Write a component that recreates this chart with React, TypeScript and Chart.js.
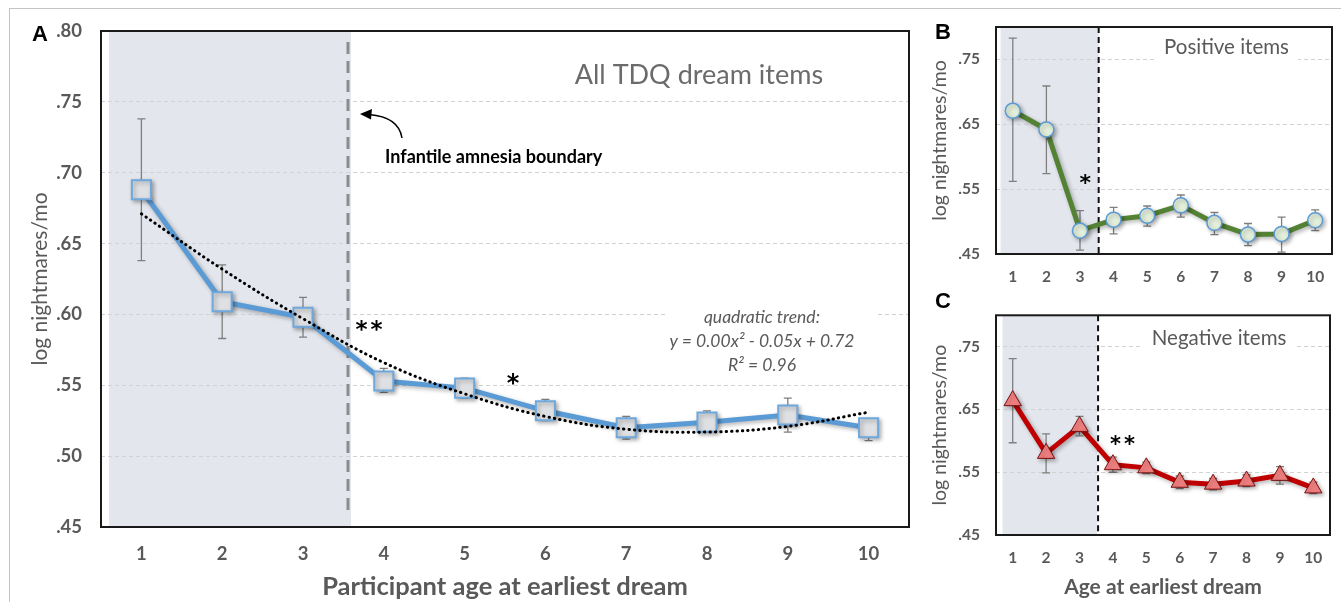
import React, { useEffect, useRef } from "react";
import { Chart, registerables } from "chart.js";

Chart.register(...registerables);

// ---------- data ----------
const ages = [1, 2, 3, 4, 5, 6, 7, 8, 9, 10];
const xTickLabels = ["1", "2", "3", "4", "5", "6", "7", "8", "9", "10"];

const allItems = [0.688, 0.609, 0.598, 0.553, 0.548, 0.532, 0.52, 0.524, 0.529, 0.52];
const allHigh = [0.738, 0.635, 0.612, 0.562, 0.555, 0.54, 0.528, 0.532, 0.541, 0.526];
const allLow = [0.638, 0.583, 0.584, 0.545, 0.541, 0.525, 0.512, 0.517, 0.517, 0.511];
const allTrend = [0.671, 0.632, 0.597, 0.566, 0.544, 0.528, 0.519, 0.517, 0.521, 0.531];

const positiveItems = [0.671, 0.642, 0.486, 0.503, 0.509, 0.525, 0.498, 0.48, 0.481, 0.502];
const positiveHigh = [0.783, 0.709, 0.517, 0.522, 0.524, 0.541, 0.514, 0.497, 0.507, 0.518];
const positiveLow = [0.562, 0.574, 0.456, 0.481, 0.493, 0.507, 0.48, 0.463, 0.453, 0.486];

const negativeItems = [0.664, 0.58, 0.623, 0.562, 0.557, 0.534, 0.531, 0.536, 0.545, 0.525];
const negativeHigh = [0.731, 0.611, 0.639, 0.574, 0.566, 0.544, 0.54, 0.546, 0.559, 0.534];
const negativeLow = [0.597, 0.549, 0.608, 0.55, 0.548, 0.524, 0.522, 0.527, 0.531, 0.516];

const yTicksA = [0.45, 0.5, 0.55, 0.6, 0.65, 0.7, 0.75, 0.8];
const yTickLabelsA = [".45", ".50", ".55", ".60", ".65", ".70", ".75", ".80"];
const yTicksBC = [0.45, 0.55, 0.65, 0.75];
const yTickLabelsBC = [".45", ".55", ".65", ".75"];

// ---------- styling ----------
const FONT = "Lato, 'Open Sans', sans-serif";
const GRAY = "#595959";

function drawStars(ctx: CanvasRenderingContext2D, n: number, cx: number, cy: number, size: number, gap: number) {
  ctx.save();
  ctx.fillStyle = "#000";
  ctx.font = `bold ${size}px "DejaVu Sans"`;
  ctx.textAlign = "center";
  ctx.textBaseline = "alphabetic";
  for (let i = 0; i < n; i++) {
    const sx = cx + (i - (n - 1) / 2) * gap;
    ctx.fillText("*", sx, cy + size * 0.55);
  }
  ctx.restore();
}

function boxedText(ctx: CanvasRenderingContext2D, text: string, cx: number, cy: number, font: string, color: string) {
  ctx.save();
  ctx.font = font;
  const w = ctx.measureText(text).width;
  ctx.fillStyle = "#fff";
  ctx.fillRect(cx - w / 2 - 9, cy - 13, w + 18, 26);
  ctx.fillStyle = color;
  ctx.textAlign = "center";
  ctx.textBaseline = "middle";
  ctx.fillText(text, cx, cy);
  ctx.restore();
}

function panelLabel(ctx: CanvasRenderingContext2D, t: string, x: number, y: number) {
  ctx.save();
  ctx.fillStyle = "#000";
  ctx.font = 'bold 22px "Liberation Sans", Arial, sans-serif';
  ctx.textAlign = "center";
  ctx.textBaseline = "middle";
  ctx.fillText(t, x, y);
  ctx.restore();
}

function annotateA(ctx: CanvasRenderingContext2D, chart: any) {
  const { x, y } = chart.scales;
  const X = (v: number) => x.getPixelForValue(v);
  const Y = (v: number) => y.getPixelForValue(v);
  panelLabel(ctx, "A", 40, 35);
  ctx.save();
  ctx.fillStyle = "#6B6B6B";
  ctx.font = `27px ${FONT}`;
  ctx.textAlign = "center";
  ctx.textBaseline = "middle";
  ctx.fillText("All TDQ dream items", X(7.9), Y(0.769));

  ctx.fillStyle = "#000";
  ctx.font = `bold 18px ${FONT}`;
  ctx.textAlign = "left";
  ctx.fillText("Infantile amnesia boundary", X(4.015), Y(0.7111));

  // arrow
  const sx = X(4.225), sy = Y(0.7245);
  const tx = X(3.705), ty = Y(0.7415);
  ctx.strokeStyle = "#000";
  ctx.lineWidth = 1.5;
  ctx.beginPath();
  ctx.moveTo(sx, sy);
  ctx.quadraticCurveTo(sx - 3, ty + 3, tx + 9, ty + 0.5);
  ctx.stroke();
  ctx.beginPath();
  ctx.moveTo(tx, ty);
  ctx.lineTo(tx + 12, ty - 5);
  ctx.lineTo(tx + 11, ty + 5.5);
  ctx.closePath();
  ctx.fill();

  // quadratic trend box
  ctx.fillStyle = "#fff";
  ctx.fillRect(X(7.48), Y(0.6075), X(10.08) - X(7.48), Y(0.5553) - Y(0.6075));
  ctx.fillStyle = GRAY;
  ctx.font = `italic 17.5px ${FONT}`;
  ctx.textAlign = "center";
  ctx.fillText("quadratic trend:", X(8.68), Y(0.5976));
  ctx.fillText("y = 0.00x\u00B2 - 0.05x + 0.72", X(8.68), Y(0.5807));
  ctx.fillText("R\u00B2 = 0.96", X(8.68), Y(0.5638));
  ctx.restore();

  drawStars(ctx, 2, X(3.817), Y(0.5927), 23, 15);
  drawStars(ctx, 1, X(5.599), Y(0.5553), 24, 0);
}

function annotateB(ctx: CanvasRenderingContext2D, chart: any) {
  const { x, y } = chart.scales;
  panelLabel(ctx, "B", 18, 33);
  drawStars(ctx, 1, x.getPixelForValue(3.16), y.getPixelForValue(0.5678), 22, 0);
  boxedText(ctx, "Positive items", x.getPixelForValue(7.36), y.getPixelForValue(0.7683), `20.5px ${FONT}`, GRAY);
}

function annotateC(ctx: CanvasRenderingContext2D, chart: any) {
  const { x, y } = chart.scales;
  panelLabel(ctx, "C", 18, 12);
  drawStars(ctx, 2, x.getPixelForValue(4.29), y.getPixelForValue(0.602), 21, 14);
  boxedText(ctx, "Negative items", x.getPixelForValue(7.18), y.getPixelForValue(0.7636), `20.5px ${FONT}`, GRAY);
}

const panelA = {
  key: "A",
  values: allItems, high: allHigh, low: allLow, trend: allTrend,
  lineColor: "#5B9BD5", pointStyle: "rect", pointRadius: 13.5, pointBg: "#DFE0E3", pointBorder: "#6FA8DC", pointBorderWidth: 2,
  yTicks: yTicksA, yTickLabels: yTickLabelsA,
  padding: { left: 0, top: 31, right: 16, bottom: 0 }, yAxisWidth: 101, xAxisHeight: 75,
  tickFont: 18.5, yTickPad: 19, xTickPad: 16,
  yTitleFont: 21, yTitlePad: 27.4, xTitle: "Participant age at earliest dream", xTitleFont: 25.5, xTitlePad: 0,
  shadeFrom: 0.6, shadeTo: 3.594, boundary: 3.557, boundaryColor: "#8C8C8C", boundaryWidth: 3, boundaryDash: [12, 7], boundaryInset: [11, 12],
  annotate: annotateA,
};

const panelB = {
  key: "B",
  values: positiveItems, high: positiveHigh, low: positiveLow, trend: null,
  lineColor: "#548235", pointStyle: "circle", pointRadius: 7.5, pointBg: "#E2EFDA", pointBorder: "#5B9BD5", pointBorderWidth: 1.5,
  yTicks: yTicksBC, yTickLabels: yTickLabelsBC,
  padding: { left: 0, top: 27, right: 5, bottom: 0 }, yAxisWidth: 71, xAxisHeight: 36,
  tickFont: 15.5, yTickPad: 16, xTickPad: 13.7,
  yTitleFont: 19.5, yTitlePad: 3.3, xTitle: null, xTitleFont: 20, xTitlePad: 0,
  shadeFrom: 0.636, shadeTo: 3.556, boundary: 3.556, boundaryColor: "#111", boundaryWidth: 2, boundaryDash: [6, 4], boundaryInset: [0, 0],
  annotate: annotateB,
};

const panelC = {
  key: "C",
  values: negativeItems, high: negativeHigh, low: negativeLow, trend: null,
  lineColor: "#C00000", pointStyle: "triangle", pointRadius: 10, pointBg: "#F07F7F", pointBorder: "#7A1010", pointBorderWidth: 1,
  yTicks: yTicksBC, yTickLabels: yTickLabelsBC,
  padding: { left: 0, top: 21, right: 5, bottom: 0 }, yAxisWidth: 71, xAxisHeight: 67,
  tickFont: 15.5, yTickPad: 16, xTickPad: 13.4,
  yTitleFont: 19.5, yTitlePad: 3.3, xTitle: "Age at earliest dream", xTitleFont: 21, xTitlePad: 2.4,
  shadeFrom: 0.695, shadeTo: 3.527, boundary: 3.556, boundaryColor: "#111", boundaryWidth: 2, boundaryDash: [6, 4], boundaryInset: [0, 0],
  annotate: annotateC,
};

function buildConfig(p: any): any {
  const datasets: any[] = [];
  if (p.trend) {
    datasets.push({
      data: ages.map((a, i) => ({ x: a, y: p.trend[i] })),
      borderColor: "#000",
      borderWidth: 3,
      borderDash: [0.4, 5],
      borderCapStyle: "round",
      pointRadius: 0,
      tension: 0.4,
      fill: false,
      order: 0,
    });
  }
  datasets.push({
    data: ages.map((a, i) => ({ x: a, y: p.values[i] })),
    borderColor: p.lineColor,
    borderWidth: 5,
    pointStyle: p.pointStyle,
    pointRadius: p.pointRadius,
    pointBackgroundColor: p.pointBg,
    pointBorderColor: p.pointBorder,
    pointBorderWidth: p.pointBorderWidth,
    tension: 0,
    fill: false,
    order: 1,
    shadow: true,
  });

  const plugin = {
    id: "decor" + p.key,
    beforeDraw(chart: any) {
      const { ctx, chartArea: a, scales } = chart;
      const x0 = scales.x.getPixelForValue(p.shadeFrom);
      const x1 = scales.x.getPixelForValue(p.shadeTo);
      ctx.save();
      ctx.fillStyle = "#E3E6EC";
      ctx.fillRect(x0, a.top, x1 - x0, a.bottom - a.top);
      ctx.restore();
    },
    beforeDatasetsDraw(chart: any) {
      const { ctx, chartArea: a, scales } = chart;
      const { x, y } = scales;
      ctx.save();
      const bx = x.getPixelForValue(p.boundary);
      ctx.strokeStyle = p.boundaryColor;
      ctx.lineWidth = p.boundaryWidth;
      ctx.setLineDash(p.boundaryDash);
      ctx.beginPath();
      ctx.moveTo(bx, a.top + p.boundaryInset[0]);
      ctx.lineTo(bx, a.bottom - p.boundaryInset[1]);
      ctx.stroke();
      ctx.setLineDash([]);
      ctx.strokeStyle = "#7F7F7F";
      ctx.lineWidth = 1.3;
      ages.forEach((age, i) => {
        const px = x.getPixelForValue(age);
        const hi = y.getPixelForValue(p.high[i]);
        const lo = y.getPixelForValue(p.low[i]);
        ctx.beginPath();
        ctx.moveTo(px, hi);
        ctx.lineTo(px, lo);
        ctx.moveTo(px - 4, hi);
        ctx.lineTo(px + 4, hi);
        ctx.moveTo(px - 4, lo);
        ctx.lineTo(px + 4, lo);
        ctx.stroke();
      });
      ctx.restore();
    },
    beforeDatasetDraw(chart: any, args: any) {
      if (chart.data.datasets[args.index].shadow) {
        const c = chart.ctx;
        c.save();
        c.shadowColor = "rgba(0,0,0,0.3)";
        c.shadowBlur = 4;
        c.shadowOffsetX = 2;
        c.shadowOffsetY = 2;
      }
    },
    afterDatasetDraw(chart: any, args: any) {
      if (chart.data.datasets[args.index].shadow) chart.ctx.restore();
    },
    afterDraw(chart: any) {
      const { ctx, chartArea: a } = chart;
      p.annotate(ctx, chart);
      ctx.save();
      ctx.strokeStyle = "#1A1A1A";
      ctx.lineWidth = 2;
      ctx.strokeRect(a.left, a.top, a.right - a.left, a.bottom - a.top);
      ctx.restore();
    },
  };

  return {
    type: "line",
    data: { datasets },
    options: {
      responsive: true,
      maintainAspectRatio: false,
      animation: false,
      events: [],
      layout: { padding: p.padding },
      plugins: { legend: { display: false }, tooltip: { enabled: false }, title: { display: false } },
      scales: {
        x: {
          type: "linear",
          min: 0.5,
          max: 10.5,
          afterBuildTicks: (s: any) => {
            s.ticks = ages.map((v) => ({ value: v }));
          },
          afterFit: (s: any) => {
            s.height = p.xAxisHeight;
          },
          grid: { display: false, drawTicks: false },
          border: { display: false },
          ticks: {
            callback: (_v: any, i: number) => xTickLabels[i],
            font: { family: FONT, size: p.tickFont, weight: "bold" },
            color: GRAY,
            padding: p.xTickPad,
            maxRotation: 0,
            minRotation: 0,
            autoSkip: false,
          },
          title: p.xTitle
            ? {
                display: true,
                text: p.xTitle,
                font: { family: FONT, size: p.xTitleFont, weight: "bold" },
                color: GRAY,
                padding: { top: 0, bottom: p.xTitlePad },
              }
            : { display: false },
        },
        y: {
          type: "linear",
          min: 0.45,
          max: 0.8,
          afterBuildTicks: (s: any) => {
            s.ticks = p.yTicks.map((v: number) => ({ value: v }));
          },
          afterFit: (s: any) => {
            s.width = p.yAxisWidth;
          },
          grid: { color: "#D2D2D2", lineWidth: 1, drawTicks: false },
          border: { display: false, dash: [4, 3] },
          ticks: {
            callback: (_v: any, i: number) => p.yTickLabels[i],
            font: { family: FONT, size: p.tickFont, weight: "bold" },
            color: GRAY,
            padding: p.yTickPad,
          },
          title: {
            display: true,
            text: "log nightmares/mo",
            font: { family: FONT, size: p.yTitleFont },
            color: GRAY,
            padding: { top: p.yTitlePad, bottom: 0 },
          },
        },
      },
    },
    plugins: [plugin],
  };
}

export default function App() {
  const refA = useRef<HTMLCanvasElement>(null);
  const refB = useRef<HTMLCanvasElement>(null);
  const refC = useRef<HTMLCanvasElement>(null);

  useEffect(() => {
    const charts = [
      new Chart(refA.current as HTMLCanvasElement, buildConfig(panelA)),
      new Chart(refB.current as HTMLCanvasElement, buildConfig(panelB)),
      new Chart(refC.current as HTMLCanvasElement, buildConfig(panelC)),
    ];
    let alive = true;
    const fonts: any = (document as any).fonts;
    if (fonts && fonts.load) {
      Promise.all([fonts.load(`bold 18px Lato`), fonts.load(`18px Lato`), fonts.load(`italic 17px Lato`)])
        .then(() => {
          if (alive) charts.forEach((c) => c.update());
        })
        .catch(() => {});
    }
    return () => {
      alive = false;
      charts.forEach((c) => c.destroy());
    };
  }, []);

  return (
    <div style={{ position: "absolute", left: 0, top: 0, width: 1341, height: 602, overflow: "hidden", background: "#fff" }}>
      <div
        style={{
          position: "absolute",
          left: 9,
          top: 8,
          width: 1332,
          height: 594,
          borderTop: "1px solid #C4C4C4",
          borderLeft: "1px solid #C4C4C4",
          boxSizing: "border-box",
        }}
      />
      <div style={{ position: "absolute", left: 0, top: 0, width: 925, height: 602 }}>
        <canvas ref={refA} />
      </div>
      <div style={{ position: "absolute", left: 925, top: 0, width: 416, height: 290 }}>
        <canvas ref={refB} />
      </div>
      <div style={{ position: "absolute", left: 925, top: 290, width: 416, height: 312 }}>
        <canvas ref={refC} />
      </div>
    </div>
  );
}
